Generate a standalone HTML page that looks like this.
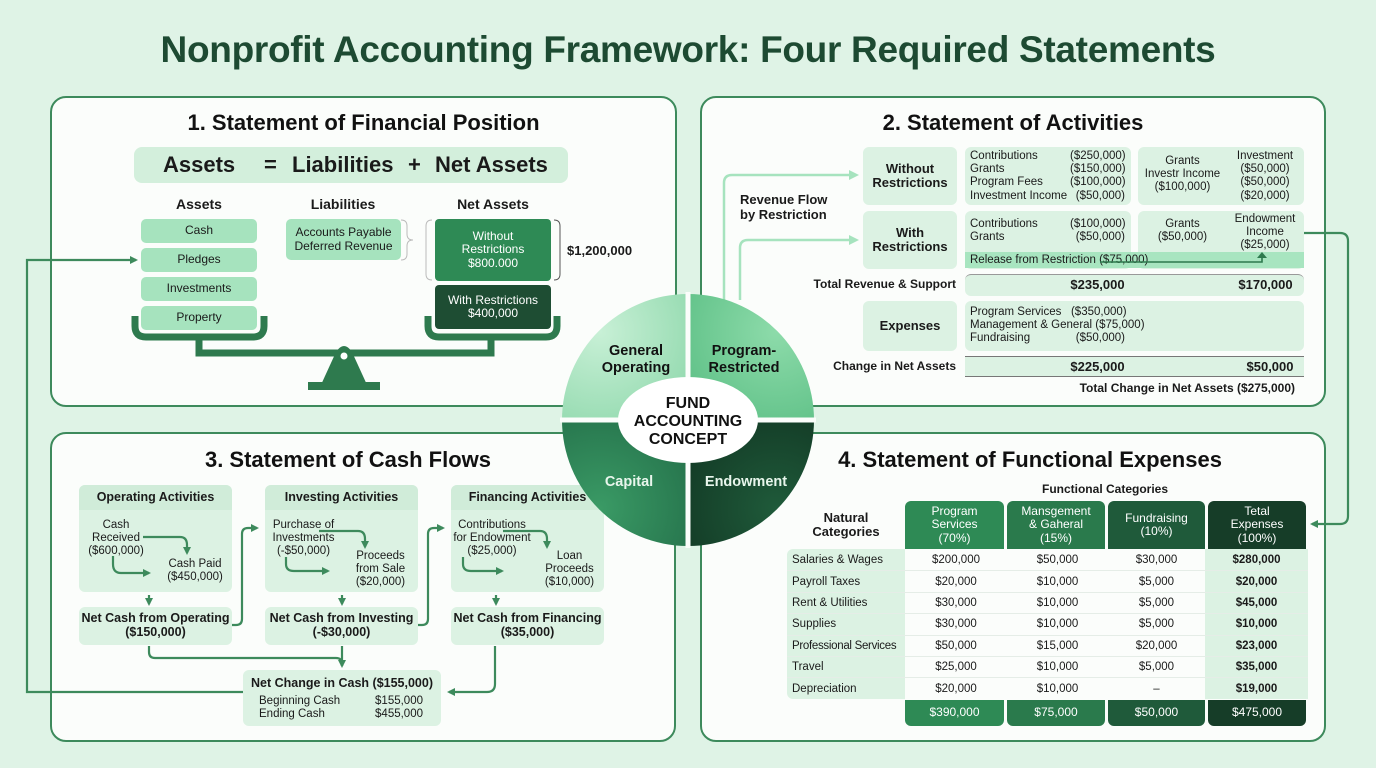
<!DOCTYPE html>
<html><head><meta charset="utf-8"><style>
*{margin:0;padding:0;box-sizing:border-box}
body{width:1376px;height:768px;background:#dff3e6;font-family:"Liberation Sans",sans-serif;color:#1a1a1a;position:relative;overflow:hidden}
.a{position:absolute}
.b{position:absolute;display:flex;align-items:center;justify-content:center;text-align:center;line-height:1.1}
.p{position:absolute;border:2px solid #3d8a5c;border-radius:16px;background:#fbfdfb}
.h{position:absolute;font-weight:bold;font-size:22px;text-align:center;color:#111}
.lg{background:#a6e3be;border-radius:5px;font-size:12px}
.pl{background:#dcf2e3;border-radius:6px}
.bold{font-weight:bold}
.sm{font-size:11.5px;line-height:1.15}
.w{color:#fff}
table{border-collapse:separate;border-spacing:0;table-layout:fixed}
td{white-space:nowrap;height:21.4px;padding:0;border-top:1px solid #e5ede7}
td.c{text-align:center}
td.t{text-align:center;font-weight:bold}
td.l{padding-left:5px}
</style></head><body>
<div class="a bold" style="left:0;width:1376px;top:29px;text-align:center;font-size:37px;color:#1d4a32;letter-spacing:-0.3px">Nonprofit Accounting Framework: Four Required Statements</div>

<div class="p" style="left:50px;top:96px;width:627px;height:311px"></div>
<div class="p" style="left:700px;top:96px;width:626px;height:311px"></div>
<div class="p" style="left:50px;top:432px;width:626px;height:310px"></div>
<div class="p" style="left:700px;top:432px;width:626px;height:310px"></div>

<svg class="a" style="left:0;top:0" width="1376" height="768" fill="none" stroke="#3d8a5c" stroke-width="2.2">
<defs><marker id="ar" markerWidth="8" markerHeight="8" refX="6" refY="4" orient="auto" markerUnits="userSpaceOnUse"><path d="M0,0 L8,4 L0,8z" fill="#3d8a5c" stroke="none"/></marker>
<marker id="al" markerWidth="10" markerHeight="10" refX="7" refY="5" orient="auto" markerUnits="userSpaceOnUse"><path d="M0,0 L10,5 L0,10z" fill="#a6e3be" stroke="none"/></marker></defs>
<path d="M243,692 H27 V260 H136" marker-end="url(#ar)"/>
<path d="M1304,233 H1340 Q1348,233 1348,241 V516 Q1348,524 1340,524 H1312" marker-end="url(#ar)"/>
<path d="M724,300 V183 Q724,175 732,175 H856" stroke="#a6e3be" stroke-width="2.5" marker-end="url(#al)"/>
<path d="M740,300 V248 Q740,240 748,240 H856" stroke="#a6e3be" stroke-width="2.5" marker-end="url(#al)"/>
<g stroke="#2e7a4e" stroke-width="7">
<path d="M135,316 V326 Q135,337 146,337 H253 Q264,337 264,326 V316"/>
<path d="M428,316 V326 Q428,337 439,337 H546 Q557,337 557,326 V316"/>
<path d="M199,338 V353 H491 V338"/>
</g>
<path d="M320,387 L336,352 Q344,340 352,352 L368,387z" fill="#2e7a4e" stroke="none"/>
<rect x="308" y="382" width="72" height="8" fill="#2e7a4e" stroke="none"/>
<circle cx="344" cy="356" r="3.5" fill="#fff" stroke="none"/>
<path d="M401,220 Q407,220 407,226 V234 Q407,240 413,240 Q407,240 407,246 V254 Q407,260 401,260" stroke="#bbb" stroke-width="1"/>
<path d="M432,220 Q426,220 426,226 V274 Q426,280 432,280" stroke="#bbb" stroke-width="1"/>
<path d="M554,220 Q560,220 560,226 V274 Q560,280 554,280" stroke="#555" stroke-width="1"/>
<path d="M149,595 V604" marker-end="url(#ar)"/>
<path d="M342,595 V604" marker-end="url(#ar)"/>
<path d="M496,595 V604" marker-end="url(#ar)"/>
<path d="M232,625 H236 Q242,625 242,619 V534 Q242,528 248,528 H257" marker-end="url(#ar)"/>
<path d="M418,625 H422 Q428,625 428,619 V534 Q428,528 434,528 H443" marker-end="url(#ar)"/>
<path d="M149,646 V652 Q149,658 155,658 H336 Q342,658 342,664 V666" />
<path d="M342,646 V666" marker-end="url(#ar)"/>
<path d="M495,646 V684 Q495,692 487,692 H449" marker-end="url(#ar)"/>
</svg>

<!-- Panel 1 -->
<div class="h" style="left:50px;width:627px;top:110px">1. Statement of Financial Position</div>
<div class="a" style="left:134px;top:147px;width:434px;height:36px;background:#d3efdc;border-radius:8px"></div>
<div class="a bold" style="left:163px;top:152px;font-size:22px">Assets</div>
<div class="a bold" style="left:264px;top:152px;font-size:22px">=</div>
<div class="a bold" style="left:292px;top:152px;font-size:22px">Liabilities</div>
<div class="a bold" style="left:408px;top:152px;font-size:22px">+</div>
<div class="a bold" style="left:435px;top:152px;font-size:22px">Net Assets</div>
<div class="b bold" style="left:149px;top:197px;width:100px;font-size:14px">Assets</div>
<div class="b bold" style="left:293px;top:197px;width:100px;font-size:14px">Liabilities</div>
<div class="b bold" style="left:443px;top:197px;width:100px;font-size:14px">Net Assets</div>
<div class="b lg" style="left:141px;top:219px;width:116px;height:24px">Cash</div>
<div class="b lg" style="left:141px;top:248px;width:116px;height:24px">Pledges</div>
<div class="b lg" style="left:141px;top:277px;width:116px;height:24px">Investments</div>
<div class="b lg" style="left:141px;top:306px;width:116px;height:24px">Property</div>
<div class="b lg" style="left:286px;top:219px;width:115px;height:41px">Accounts Payable<br>Deferred Revenue</div>
<div class="b w" style="left:435px;top:219px;width:116px;height:62px;background:#2e8a55;border-radius:4px;font-size:12px">Without<br>Restrictions<br>$800.000</div>
<div class="b w" style="left:435px;top:285px;width:116px;height:44px;background:#1e4d33;border-radius:4px;font-size:12px">With Restrictions<br>$400,000</div>
<div class="a bold" style="left:567px;top:243px;font-size:13px">$1,200,000</div>

<!-- Panel 2 -->
<div class="h" style="left:700px;width:626px;top:110px">2. Statement of Activities</div>
<div class="a bold" style="left:740px;top:193px;font-size:13px;line-height:1.15">Revenue Flow<br>by Restriction</div>
<div class="b pl bold" style="left:863px;top:147px;width:94px;height:58px;font-size:13px">Without<br>Restrictions</div>
<div class="b pl bold" style="left:863px;top:211px;width:94px;height:58px;font-size:13px">With<br>Restrictions</div>
<div class="a pl" style="left:965px;top:147px;width:166px;height:58px"></div>
<div class="a pl" style="left:1138px;top:147px;width:166px;height:58px"></div>
<div class="a pl" style="left:965px;top:211px;width:166px;height:58px"></div>
<div class="a pl" style="left:1138px;top:211px;width:166px;height:58px"></div>
<div class="a sm" style="left:970px;top:150px">Contributions<br>Grants<br>Program Fees<br>Investment Income</div>
<div class="a sm" style="left:1070px;top:150px;width:55px;text-align:right">($250,000)<br>($150,000)<br>($100,000)<br>($50,000)</div>
<div class="b sm" style="left:1140px;top:155px;width:85px">Grants<br>Investr Income<br>($100,000)</div>
<div class="b sm" style="left:1230px;top:150px;width:70px">Investment<br>($50,000)<br>($50,000)<br>($20,000)</div>
<div class="a sm" style="left:970px;top:218px">Contributions<br>Grants</div>
<div class="a sm" style="left:1070px;top:218px;width:55px;text-align:right">($100,000)<br>($50,000)</div>
<div class="b sm" style="left:1140px;top:218px;width:85px">Grants<br>($50,000)</div>
<div class="b sm" style="left:1230px;top:213px;width:70px">Endowment<br>Income<br>($25,000)</div>
<div class="a" style="left:965px;top:252px;width:339px;height:16px;background:#a8e5c0"></div>
<div class="a sm" style="left:970px;top:254px">Release from Restriction ($75,000)</div>
<svg class="a" style="left:1100px;top:252px" width="180" height="16"><path d="M0,10 H162 V5" stroke="#2e7a4e" stroke-width="1.6" fill="none"/><path d="M157,6 L162,0 L167,6z" fill="#2e7a4e"/></svg>
<div class="a bold" style="left:780px;top:277px;width:176px;text-align:right;font-size:12px">Total Revenue &amp; Support</div>
<div class="a pl" style="left:965px;top:274px;width:339px;height:22px;border-top:1px solid #999"></div>
<div class="a bold" style="left:1060px;top:277px;width:75px;text-align:center;font-size:13px">$235,000</div>
<div class="a bold" style="left:1228px;top:277px;width:75px;text-align:center;font-size:13px">$170,000</div>
<div class="b pl bold" style="left:863px;top:301px;width:94px;height:50px;font-size:13px">Expenses</div>
<div class="a pl" style="left:965px;top:301px;width:339px;height:50px"></div>
<div class="a sm" style="left:970px;top:306px">Program Services&nbsp;&nbsp;&nbsp;($350,000)<br>Management &amp; General ($75,000)<br>Fundraising</div>
<div class="a sm" style="left:1070px;top:332px;width:55px;text-align:right">($50,000)</div>
<div class="a bold" style="left:780px;top:359px;width:176px;text-align:right;font-size:12px">Change in Net Assets</div>
<div class="a pl" style="left:965px;top:356px;width:339px;height:21px;border-top:1px solid #777;border-bottom:1px solid #777;border-radius:0"></div>
<div class="a bold" style="left:1060px;top:359px;width:75px;text-align:center;font-size:13px">$225,000</div>
<div class="a bold" style="left:1235px;top:359px;width:70px;text-align:center;font-size:13px">$50,000</div>
<div class="a bold" style="left:1000px;top:381px;width:295px;text-align:right;font-size:12px">Total Change in Net Assets ($275,000)</div>

<!-- Panel 3 -->
<div class="h" style="left:50px;width:596px;top:447px">3. Statement of Cash Flows</div>
<div class="a pl" style="left:79px;top:485px;width:153px;height:107px"></div>
<div class="a pl" style="left:265px;top:485px;width:153px;height:107px"></div>
<div class="a pl" style="left:451px;top:485px;width:153px;height:107px"></div>
<div class="b bold" style="left:79px;top:485px;width:153px;height:25px;font-size:12.5px;background:#d0ecd9;border-radius:6px 6px 0 0">Operating Activities</div>
<div class="b bold" style="left:265px;top:485px;width:153px;height:25px;font-size:12.5px;background:#d0ecd9;border-radius:6px 6px 0 0">Investing Activities</div>
<div class="b bold" style="left:451px;top:485px;width:153px;height:25px;font-size:12.5px;background:#d0ecd9;border-radius:6px 6px 0 0">Financing Activities</div>
<div class="b sm" style="left:82px;top:519px;width:68px">Cash<br>Received<br>($600,000)</div>
<div class="b sm" style="left:160px;top:558px;width:70px">Cash Paid<br>($450,000)</div>
<div class="b sm" style="left:266px;top:519px;width:75px">Purchase of<br>Investments<br>(-$50,000)</div>
<div class="b sm" style="left:348px;top:550px;width:65px">Proceeds<br>from Sale<br>($20,000)</div>
<div class="b sm" style="left:452px;top:519px;width:80px">Contributions<br>for Endowment<br>($25,000)</div>
<div class="b sm" style="left:537px;top:550px;width:65px">Loan<br>Proceeds<br>($10,000)</div>
<svg class="a" style="left:0;top:0" width="700" height="768" fill="none" stroke="#3d8a5c" stroke-width="2.2">
<defs><marker id="ar2" markerWidth="8" markerHeight="8" refX="6" refY="4" orient="auto" markerUnits="userSpaceOnUse"><path d="M0,0 L8,4 L0,8z" fill="#3d8a5c" stroke="none"/></marker></defs>
<path d="M143,537 H180 Q187,537 187,545 V553" marker-end="url(#ar2)"/>
<path d="M113,556 V564 Q113,573 121,573 H149" marker-end="url(#ar2)"/>
<path d="M319,531 H358 Q365,531 365,539 V547" marker-end="url(#ar2)"/>
<path d="M286,557 V564 Q286,571 294,571 H328" marker-end="url(#ar2)"/>
<path d="M503,531 H540 Q547,531 547,539 V547" marker-end="url(#ar2)"/>
<path d="M463,557 V564 Q463,571 471,571 H502" marker-end="url(#ar2)"/>
</svg>
<div class="b pl bold" style="left:79px;top:607px;width:153px;height:38px;font-size:12.5px">Net Cash from Operating<br>($150,000)</div>
<div class="b pl bold" style="left:265px;top:607px;width:153px;height:38px;font-size:12.5px">Net Cash from Investing<br>(-$30,000)</div>
<div class="b pl bold" style="left:451px;top:607px;width:153px;height:38px;font-size:12.5px">Net Cash from Financing<br>($35,000)</div>
<div class="a pl" style="left:243px;top:670px;width:198px;height:56px"></div>
<div class="a bold" style="left:243px;top:676px;width:198px;text-align:center;font-size:12.5px">Net Change in Cash ($155,000)</div>
<div class="a sm" style="left:259px;top:695px">Beginning Cash<br>Ending Cash</div>
<div class="a sm" style="left:360px;top:695px;width:63px;text-align:right">$155,000<br>$455,000</div>

<!-- Panel 4 -->
<div class="h" style="left:780px;width:500px;top:447px">4. Statement of Functional Expenses</div>
<div class="a bold" style="left:1005px;top:482px;width:200px;text-align:center;font-size:12px">Functional Categories</div>
<div class="b bold" style="left:790px;top:511px;width:112px;font-size:13px">Natural<br>Categories</div>
<div class="b w" style="left:905px;top:501px;width:99px;height:48px;background:#2e8a55;border-radius:6px 6px 0 0;font-size:12px">Program<br>Services<br>(70%)</div>
<div class="b w" style="left:1007px;top:501px;width:98px;height:48px;background:#2a7a4c;border-radius:6px 6px 0 0;font-size:12px">Mansgement<br>&amp; Gaheral<br>(15%)</div>
<div class="b w" style="left:1108px;top:501px;width:97px;height:48px;background:#1f5a3a;border-radius:6px 6px 0 0;font-size:12px">Fundraising<br>(10%)</div>
<div class="b w" style="left:1208px;top:501px;width:98px;height:48px;background:#163d28;border-radius:6px 6px 0 0;font-size:12px">Tetal<br>Expenses<br>(100%)</div>
<div class="a" style="left:787px;top:549px;width:118px;height:150px;background:#dcf2e3;border-radius:6px 0 0 6px"></div>
<div class="a" style="left:1205px;top:549px;width:103px;height:150px;background:#dcf2e3"></div>
<div class="a" style="left:787px;top:549px;font-size:11.5px">
<table style="width:521px;font-size:11.5px">
<colgroup><col style="width:118px"><col style="width:102px"><col style="width:101px"><col style="width:97px"><col style="width:103px"></colgroup>
<tr><td class="l" style="border-top:0">Salaries &amp; Wages</td><td class="c" style="border-top:0">$200,000</td><td class="c" style="border-top:0">$50,000</td><td class="c" style="border-top:0">$30,000</td><td class="t" style="border-top:0">$280,000</td></tr>
<tr><td class="l">Payroll Taxes</td><td class="c">$20,000</td><td class="c">$10,000</td><td class="c">$5,000</td><td class="t">$20,000</td></tr>
<tr><td class="l">Rent &amp; Utilities</td><td class="c">$30,000</td><td class="c">$10,000</td><td class="c">$5,000</td><td class="t">$45,000</td></tr>
<tr><td class="l">Supplies</td><td class="c">$30,000</td><td class="c">$10,000</td><td class="c">$5,000</td><td class="t">$10,000</td></tr>
<tr><td class="l" style="letter-spacing:-0.3px">Professional Services</td><td class="c">$50,000</td><td class="c">$15,000</td><td class="c">$20,000</td><td class="t">$23,000</td></tr>
<tr><td class="l">Travel</td><td class="c">$25,000</td><td class="c">$10,000</td><td class="c">$5,000</td><td class="t">$35,000</td></tr>
<tr><td class="l">Depreciation</td><td class="c">$20,000</td><td class="c">$10,000</td><td class="c">–</td><td class="t">$19,000</td></tr>
</table></div>
<div class="b w" style="left:905px;top:700px;width:99px;height:26px;background:#2e8a55;border-radius:0 0 6px 6px;font-size:12px">$390,000</div>
<div class="b w" style="left:1007px;top:700px;width:98px;height:26px;background:#2a7a4c;border-radius:0 0 6px 6px;font-size:12px">$75,000</div>
<div class="b w" style="left:1108px;top:700px;width:97px;height:26px;background:#1f5a3a;border-radius:0 0 6px 6px;font-size:12px">$50,000</div>
<div class="b w" style="left:1208px;top:700px;width:98px;height:26px;background:#163d28;border-radius:0 0 6px 6px;font-size:12px">$475,000</div>

<!-- center circle -->
<svg class="a" style="left:556px;top:288px" width="264" height="264">
<defs>
<radialGradient id="g1" cx="0.3" cy="0.3" r="0.9"><stop offset="0" stop-color="#c8f0d6"/><stop offset="1" stop-color="#8fd8ac"/></radialGradient>
<radialGradient id="g2" cx="0.7" cy="0.3" r="0.9"><stop offset="0" stop-color="#8ddbaa"/><stop offset="1" stop-color="#5cbf85"/></radialGradient>
<radialGradient id="g3" cx="0.3" cy="0.7" r="0.9"><stop offset="0" stop-color="#3a9a65"/><stop offset="1" stop-color="#24704a"/></radialGradient>
<radialGradient id="g4" cx="0.7" cy="0.7" r="0.9"><stop offset="0" stop-color="#1f5a3a"/><stop offset="1" stop-color="#123824"/></radialGradient>
</defs>
<path d="M132,132 L6,132 A126,126 0 0 1 132,6z" fill="url(#g1)"/>
<path d="M132,132 L132,6 A126,126 0 0 1 258,132z" fill="url(#g2)"/>
<path d="M132,132 L258,132 A126,126 0 0 1 132,258z" fill="url(#g4)"/>
<path d="M132,132 L132,258 A126,126 0 0 1 6,132z" fill="url(#g3)"/>
<path d="M132,4 V260 M4,132 H260" stroke="#fbfdfb" stroke-width="5"/>
<ellipse cx="132" cy="132" rx="70" ry="43" fill="#fff"/>
<g font-family="Liberation Sans" font-weight="bold" text-anchor="middle">
<text x="80" y="67" font-size="14.5" fill="#111">General</text>
<text x="80" y="84" font-size="14.5" fill="#111">Operating</text>
<text x="188" y="67" font-size="14.5" fill="#111">Program-</text>
<text x="188" y="84" font-size="14.5" fill="#111">Restricted</text>
<text x="132" y="120" font-size="16" fill="#111">FUND</text>
<text x="132" y="138" font-size="16" fill="#111">ACCOUNTING</text>
<text x="132" y="156" font-size="16" fill="#111">CONCEPT</text>
<text x="73" y="198" font-size="14.5" fill="#e8f6ec">Capital</text>
<text x="190" y="198" font-size="14.5" fill="#e8f6ec">Endowment</text>
</g>
</svg>
</body></html>
